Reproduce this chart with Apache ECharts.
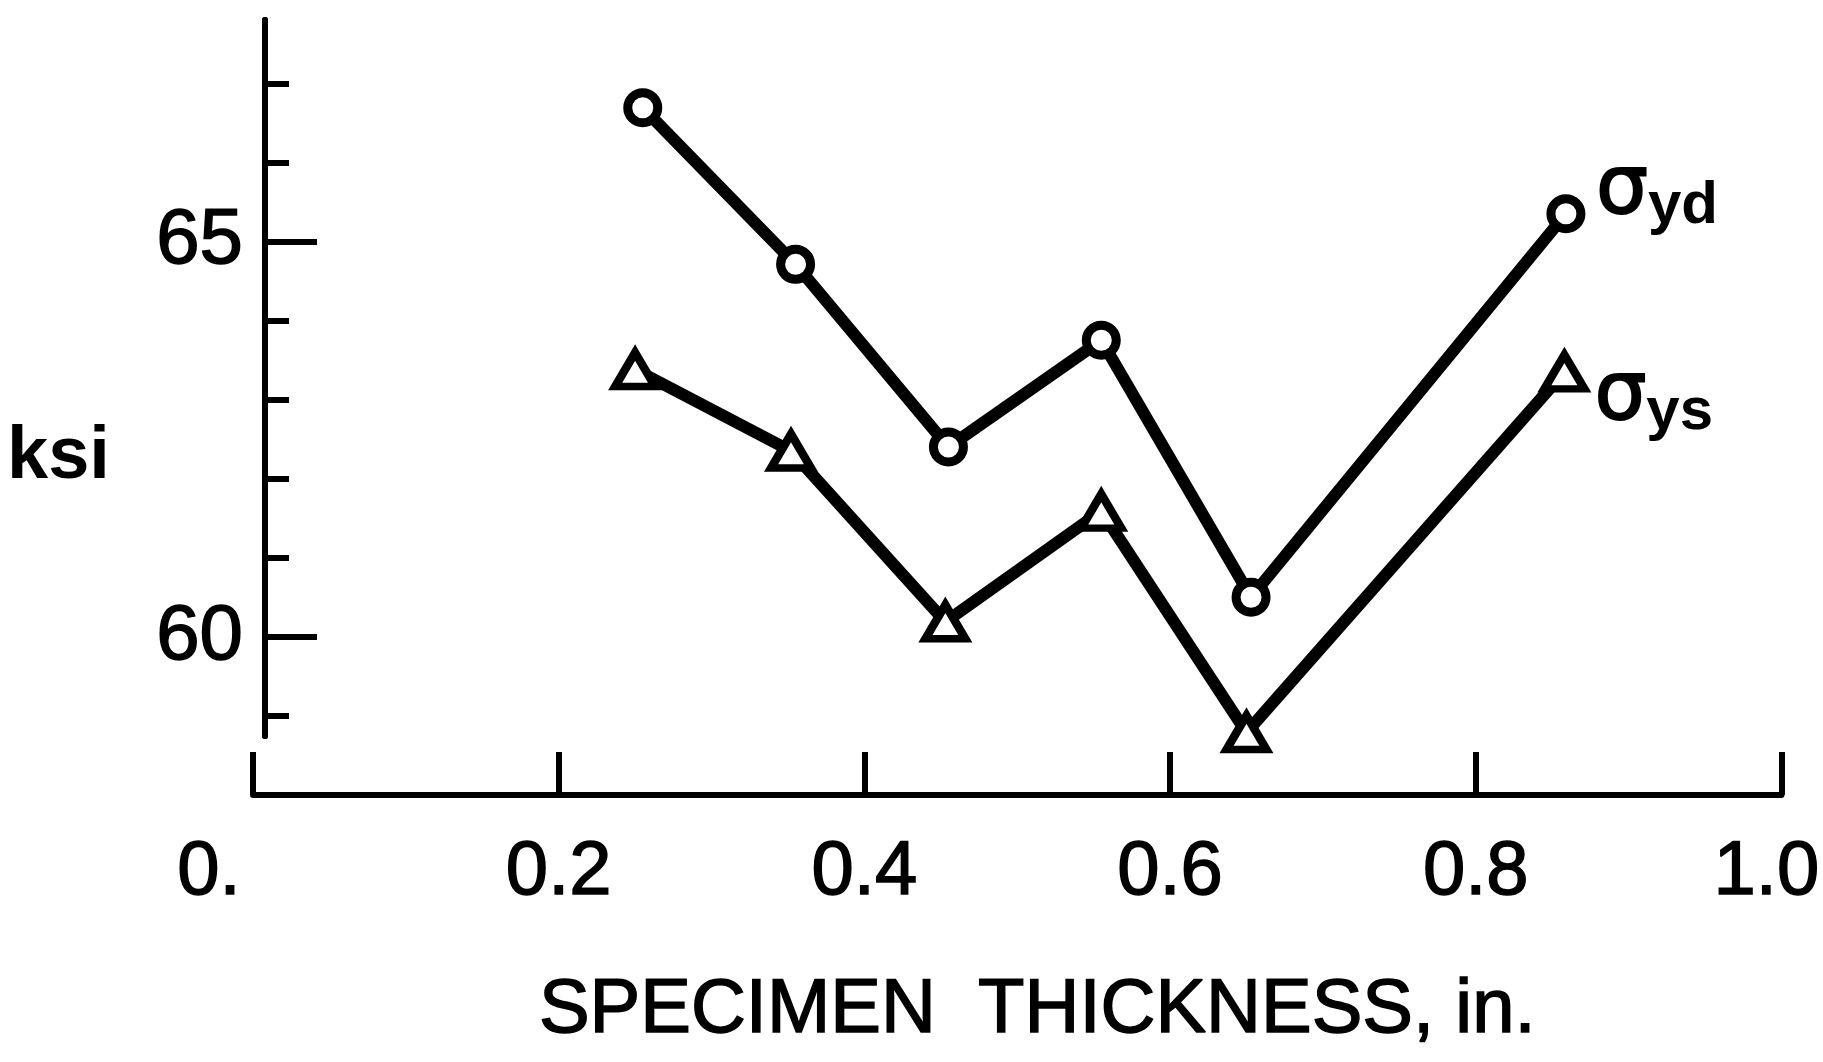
<!DOCTYPE html>
<html>
<head>
<meta charset="utf-8">
<script src="https://cdn.jsdelivr.net/npm/echarts@6/dist/echarts.min.js"></script>
<style>
  html, body { margin: 0; padding: 0; background: #fff; }
  #chart { width: 1823px; height: 1062px; }
</style>
</head>
<body>
<div id="chart"></div>
<script>
// values
var thicknessYd = [0.255, 0.355, 0.455, 0.555, 0.653, 0.859]
var sigmaYd = [66.69, 64.71, 62.40, 63.75, 60.50, 65.35]
var thicknessYs = [0.25, 0.352, 0.453, 0.555, 0.65, 0.858]
var sigmaYs = [63.38, 62.35, 60.19, 61.59, 58.79, 63.35]

var xTickLabels = ['0.', '0.2', '0.4', '0.6', '0.8', '1.0']
var yMajor = [60, 65]
var yMinor = [59, 61, 62, 63, 64, 66, 67]

var FONT = '"Liberation Sans", Arial, sans-serif'
var INK = '#000'
// thickens the thin regular face a little, like the inked lettering
var BOLDEN = { textBorderColor: INK, textBorderWidth: 1.5 }

function zip(xs, ys) {
  return xs.map(function (x, i) { return [x, ys[i]] })
}

function txt(size, extra) {
  return Object.assign({ fontFamily: FONT, fontSize: size, color: INK }, BOLDEN, extra || {})
}

function sigmaLabel(sub, dy) {
  return {
    show: true,
    formatter: '{s|σ}{b|' + sub + '}',
    distance: 30,
    offset: [0, dy],
    rich: {
      s: txt(82, { fontFamily: '"DejaVu Sans", sans-serif', textBorderWidth: 2 }),
      b: txt(60, { fontWeight: 'bold', textBorderWidth: 0, padding: [30, 0, 0, 0] })
    }
  }
}

var chart = echarts.init(document.getElementById('chart'))

var option = {
  backgroundColor: '#fff',
  animation: false,
  title: {
    text: 'ksi',
    left: 2,
    top: 416,
    textStyle: { fontFamily: FONT, fontSize: 74, fontWeight: 'bold', color: INK }
  },
  grid: [
    { left: 253, right: 41, top: 20, bottom: 267 },
    { left: 265, right: 41, top: 20, bottom: 326 }
  ],
  xAxis: [
    {
      gridIndex: 0,
      type: 'value',
      min: 0,
      max: 1,
      interval: 0.2,
      splitLine: { show: false },
      axisLine: { lineStyle: { color: INK, width: 6 } },
      axisTick: { inside: true, length: 43, lineStyle: { color: INK, width: 6 } },
      axisLabel: Object.assign({
        margin: 40,
        formatter: function (v) {
          var i = Math.round(v * 5)
          if (i === 0) return '{first|' + xTickLabels[0] + '}'
          if (i === 5) return '{last|' + xTickLabels[5] + '}'
          return xTickLabels[i]
        },
        rich: {
          first: txt(76, { padding: [0, 88, 0, 0] }),
          last: txt(76, { padding: [0, 30, 0, 0] })
        }
      }, txt(76)),
      name: 'SPECIMEN  THICKNESS, in.',
      nameLocation: 'middle',
      nameGap: 178,
      nameTextStyle: txt(76, { padding: [0, 0, 0, 40] })
    },
    { gridIndex: 1, type: 'value', min: 0, max: 1, show: false }
  ],
  yAxis: [
    { gridIndex: 0, type: 'value', min: 58, max: 67.8, show: false },
    {
      gridIndex: 1,
      type: 'value',
      position: 'left',
      min: 58.75,
      max: 67.8,
      splitLine: { show: false },
      axisLine: { show: true, lineStyle: { color: INK, width: 6 } },
      axisTick: { inside: true, length: 24, customValues: yMinor, lineStyle: { color: INK, width: 6 } },
      axisLabel: { show: false }
    },
    {
      gridIndex: 1,
      type: 'value',
      position: 'left',
      offset: 0,
      min: 58.75,
      max: 67.8,
      splitLine: { show: false },
      axisLine: { show: true, lineStyle: { color: INK, width: 6 } },
      axisTick: { inside: true, length: 52, customValues: yMajor, lineStyle: { color: INK, width: 6 } },
      axisLabel: Object.assign({ customValues: yMajor, margin: 22 }, txt(78))
    }
  ],
  series: [
    {
      name: 'yd',
      type: 'line',
      xAxisIndex: 0,
      yAxisIndex: 0,
      data: zip(thicknessYd, sigmaYd),
      symbol: 'circle',
      symbolSize: 30,
      itemStyle: { color: '#fff', borderColor: INK, borderWidth: 9 },
      lineStyle: { color: INK, width: 12 },
      endLabel: sigmaLabel('yd', -22)
    },
    {
      name: 'ys',
      type: 'line',
      xAxisIndex: 0,
      yAxisIndex: 0,
      data: zip(thicknessYs, sigmaYs),
      symbol: 'triangle',
      symbolSize: [40, 34],
      itemStyle: { color: '#fff', borderColor: INK, borderWidth: 8 },
      lineStyle: { color: INK, width: 12 },
      endLabel: sigmaLabel('ys', 26)
    }
  ]
}

chart.setOption(option)
</script>
</body>
</html>
